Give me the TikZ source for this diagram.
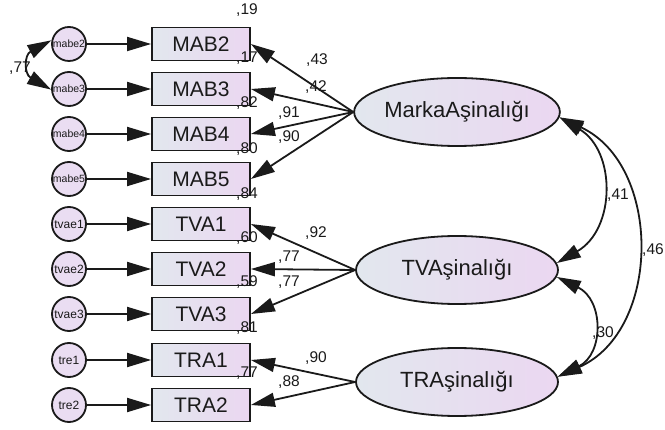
\documentclass[tikz,border=0pt]{standalone}
\usepackage{fontspec}
\setmainfont{Liberation Sans}
\usetikzlibrary{arrows.meta,shapes.geometric}
\definecolor{fillL}{HTML}{E2E7EE}
\definecolor{fillR}{HTML}{EBD7F1}
\definecolor{errfill}{HTML}{EADDF2}
\definecolor{ink}{HTML}{1A1A1A}
\tikzset{
  obs/.style={draw=ink, line width=1.8pt, rectangle, minimum width=98pt,
    minimum height=33pt, inner sep=0pt, left color=fillL, right color=fillR,
    text=ink, font=\fontsize{21}{21}\selectfont},
  lat/.style={draw=ink, line width=1.8pt, ellipse, minimum width=202pt,
    minimum height=68pt, inner sep=0pt, left color=fillL, right color=fillR,
    text=ink, font=\fontsize{22}{22}\selectfont},
  err/.style={draw=ink, line width=1.8pt, circle, minimum size=34pt,
    inner sep=0pt, fill=errfill, text=ink, font=\fontsize{10.5}{10.5}\selectfont},
  errs/.style={err, font=\fontsize{12}{12}\selectfont},
  tipshape/.tip={Triangle[length=24pt,width=14pt]},
  link/.style={draw=ink, line width=1.8pt, -tipshape},
  covar/.style={draw=ink, line width=1.8pt, tipshape-tipshape},
  est/.style={anchor=base west, inner sep=0pt, text=ink,
    font=\fontsize{15.5}{15.5}\selectfont}
}
\begin{document}
\begin{tikzpicture}[x=1pt,y=-1pt]
\path[use as bounding box, fill=white] (0,0) rectangle (665,430);

% observed indicators
\node[obs] (mab2) at (201,44)  {MAB2};
\node[obs] (mab3) at (201,89)  {MAB3};
\node[obs] (mab4) at (201,134) {MAB4};
\node[obs] (mab5) at (201,179) {MAB5};
\node[obs] (tva1) at (201,224) {TVA1};
\node[obs] (tva2) at (201,269) {TVA2};
\node[obs] (tva3) at (201,314) {TVA3};
\node[obs] (tra1) at (201,360) {TRA1};
\node[obs] (tra2) at (201,405) {TRA2};

% error terms
\node[err] (e2) at (69,44)  {mabe2};
\node[err] (e3) at (69,89)  {mabe3};
\node[err] (e4) at (69,134) {mabe4};
\node[err] (e5) at (69,179) {mabe5};
\node[errs] (t1) at (69,224) {tvae1};
\node[errs] (t2) at (69,269) {tvae2};
\node[errs] (t3) at (69,314) {tvae3};
\node[errs] (r1) at (69,360) {tre1};
\node[errs] (r2) at (69,405) {tre2};

% latent factors
\node[lat] (ma) at (457,112) {MarkaAşinalığı};
\node[lat] (tv) at (457,270) {TVAşinalığı};
\node[lat] (tr) at (457,382) {TRAşinalığı};

% error paths
\foreach \e/\b in {e2/mab2,e3/mab3,e4/mab4,e5/mab5,t1/tva1,t2/tva2,t3/tva3,r1/tra1,r2/tra2}
  \draw[link] (\e.east) -- (\b.west);

% factor loadings
\foreach \b in {mab2,mab3,mab4,mab5}
  \draw[link] (ma.west) -- (\b.east);
\foreach \b in {tva1,tva2,tva3}
  \draw[link] (tv.west) -- (\b.east);
\foreach \b in {tra1,tra2}
  \draw[link] (tr.west) -- (\b.east);

% covariances
\draw[covar] (e2.168) .. controls (24,55) and (24,74) .. (e3.182);
\draw[covar] (ma.-3.5) .. controls (616,151) and (616,229) .. (tv.4);
\draw[covar] (ma.-3.5) .. controls (662,165) and (662,330) .. (tr.3);
\draw[covar] (tv.-4) .. controls (604,300) and (604,354) .. (tr.3);

% squared multiple correlations
\node[est] (r2a) at (236,15)  {,19};
\node[est] (r2b) at (236,63)  {,17};
\node[est] (r2c) at (236,108) {,82};
\node[est] (r2d) at (236,154) {,80};
\node[est] (r2e) at (236,199) {,84};
\node[est] (r2f) at (236,243) {,60};
\node[est] (r2g) at (236,287) {,59};
\node[est] (r2h) at (236,333) {,81};
\node[est] (r2i) at (236,378) {,77};

% standardized loadings
\node[est] (l1) at (306,65)  {,43};
\node[est] (l2) at (305,92)  {,42};
\node[est] (l3) at (278,118) {,91};
\node[est] (l4) at (278,142) {,90};
\node[est] (l5) at (305,238) {,92};
\node[est] (l6) at (278,262) {,77};
\node[est] (l7) at (278,287) {,77};
\node[est] (l8) at (305,363) {,90};
\node[est] (l9) at (278,387) {,88};

% correlations
\node[est] (c1) at (9,73)    {,77};
\node[est] (c2) at (607,200) {,41};
\node[est] (c3) at (642,255) {,46};
\node[est] (c4) at (592,338) {,30};
\end{tikzpicture}
\end{document}
